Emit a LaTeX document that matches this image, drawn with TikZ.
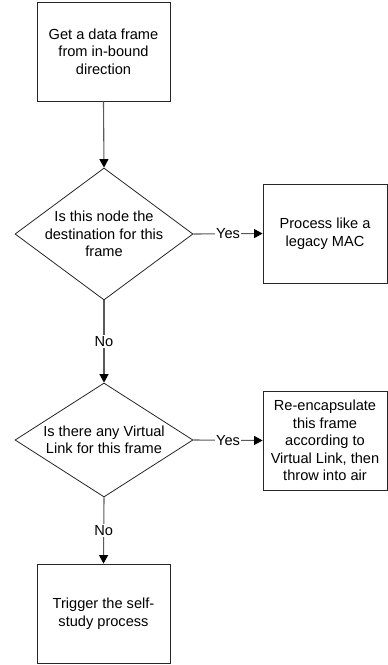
\documentclass[tikz,border=0pt]{standalone}
\usepackage{fontspec}
\setmainfont{Liberation Sans}
\usetikzlibrary{shapes.geometric,arrows.meta}
\begin{document}
\begin{tikzpicture}[x=1pt,y=-1pt,
  font=\fontsize{14.6pt}{17.5pt}\selectfont,
  stepbox/.style={draw=black!85, line width=0.8pt, rectangle, inner sep=0pt, align=center},
  decision/.style={draw=black!85, line width=0.8pt, diamond, inner sep=0pt},
  label text/.style={align=center, inner sep=0pt},
  flow/.style={draw=black!65, line width=1.1pt, -{Triangle[length=8.5pt,width=9pt,black]}},
  branch/.style={fill=white, inner sep=1pt}]
  \useasboundingbox (0,0) rectangle (388,665);

  % process boxes
  \node[stepbox, minimum width=133pt, minimum height=99pt] (get) at (103.5,51.5)
    {Get a data frame\\from in-bound\\direction};
  \node[stepbox, minimum width=124pt, minimum height=99pt] (legacy) at (325,233.5)
    {Process like a\\legacy MAC};
  \node[stepbox, minimum width=124pt, minimum height=99pt] (reenc) at (325,440.5)
    {Re-encapsulate\\this frame\\according to\\Virtual Link, then\\throw into air};
  \node[stepbox, minimum width=133pt, minimum height=99pt] (trigger) at (103.5,613.5)
    {Trigger the self-\\study process};

  % decisions
  \node[decision, minimum width=178pt, minimum height=132pt] (dest) at (104,234) {};
  \node[label text] at (dest.center) {Is this node the\\destination for this\\frame};
  \node[decision, minimum width=178pt, minimum height=114pt] (vlink) at (104,440) {};
  \node[label text] at (vlink.center) {Is there any Virtual\\Link for this frame};

  % connectors
  \draw[flow] (get.south) -- (dest.north);
  \draw[flow] (dest.east) -- node[branch] {Yes} (legacy.west);
  \draw[flow] (dest.south) -- node[branch] {No} (vlink.north);
  \draw[flow] (vlink.east) -- node[branch] {Yes} (reenc.west);
  \draw[flow] (vlink.south) -- node[branch] {No} (trigger.north);
\end{tikzpicture}
\end{document}
